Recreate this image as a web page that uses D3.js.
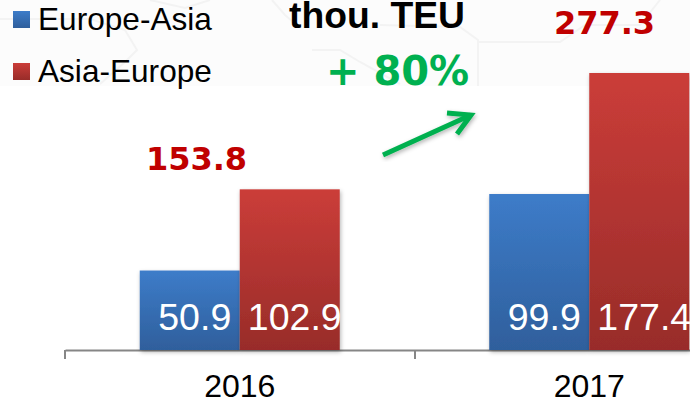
<!DOCTYPE html>
<html>
<head>
<meta charset="utf-8">
<script src="https://cdn.jsdelivr.net/npm/d3@7/dist/d3.min.js"></script>
<style>
html, body { margin: 0; padding: 0; background: #fff; overflow: hidden; }
text { font-family: "Liberation Sans", Arial, sans-serif; }
.bold { font-family: "DejaVu Sans", Verdana, sans-serif; font-weight: bold; }
</style>
</head>
<body>
<div id="chart"></div>
<script>
const years = ["2016", "2017"];
const seriesNames = ["Europe-Asia", "Asia-Europe"];
const europeAsia = [50.9, 99.9];
const asiaEurope = [102.9, 177.4];
const totals = ["153.8", "277.3"];

const width = 690, height = 403;
const baseline = 350;

const svg = d3.select("#chart").append("svg")
    .attr("width", width)
    .attr("height", height);

const defs = svg.append("defs");
function addGradient(id, top, bottom) {
    const g = defs.append("linearGradient")
        .attr("id", id)
        .attr("x1", 0).attr("y1", 0)
        .attr("x2", 0).attr("y2", 1);
    g.append("stop").attr("offset", "0%").attr("stop-color", top);
    g.append("stop").attr("offset", "100%").attr("stop-color", bottom);
}
addGradient("blue", "#3d7cc9", "#2f5f9c");
addGradient("red", "#cb3d39", "#982c29");
const blur = defs.append("filter").attr("id", "shadow")
    .attr("x", "-10%").attr("y", "-10%").attr("width", "125%").attr("height", "125%");
blur.append("feDropShadow")
    .attr("dx", 1).attr("dy", 2).attr("stdDeviation", 2)
    .attr("flood-color", "#000").attr("flood-opacity", 0.3);

// faint map backdrop behind the header
svg.append("rect").attr("width", width).attr("height", 86).attr("fill", "#fcfcfc");
svg.append("g")
    .attr("fill", "none")
    .attr("stroke", "#f3f3f3")
    .attr("stroke-width", 2)
    .selectAll("path")
    .data([
        "M0,19L90,19L125,30L137,50L125,62L100,84",
        "M150,0L185,8L210,0",
        "M272,0L285,15L300,28",
        "M312,50L340,50L360,62L400,84",
        "M380,25L460,27L478,40L478,86",
        "M478,42L560,42L585,25L640,25L660,0"
    ])
    .enter().append("path")
    .attr("d", d => d);

const x = d3.scaleBand().domain(years).range([65, 764]);
const y = d3.scaleLinear().domain([0, 177.4]).range([baseline, 73]);
const barWidth = 100;

// axis first, bars sit on it
const axis = svg.append("g")
    .attr("transform", `translate(0,${baseline})`)
    .call(d3.axisBottom(x).tickSize(0).tickPadding(24));
axis.select(".domain").attr("stroke", "#868686").attr("stroke-width", 2);
axis.selectAll("text")
    .attr("font-size", 32)
    .attr("fill", "#000")
    .attr("font-family", "Liberation Sans");
axis.selectAll(".edge")
    .data([65, 415, 765])
    .enter().append("line")
    .attr("class", "edge")
    .attr("x1", d => d).attr("x2", d => d)
    .attr("y1", 0).attr("y2", 9)
    .attr("stroke", "#868686").attr("stroke-width", 2);

const center = d => x(d) + x.bandwidth() / 2;

function drawBars(values, offset, fill) {
    svg.append("g").selectAll("rect")
        .data(values)
        .enter().append("rect")
        .attr("x", (d, i) => center(years[i]) + offset)
        .attr("y", d => y(d))
        .attr("width", barWidth)
        .attr("height", d => baseline - y(d))
        .attr("fill", `url(#${fill})`)
        .attr("filter", "url(#shadow)");
}
drawBars(europeAsia, -barWidth, "blue");
drawBars(asiaEurope, 0, "red");

function drawValues(values, offset) {
    svg.append("g").selectAll("text")
        .data(values)
        .enter().append("text")
        .attr("x", (d, i) => center(years[i]) + offset)
        .attr("y", 330)
        .attr("text-anchor", "middle")
        .attr("font-size", 37.5)
        .attr("fill", "#fff")
        .text(d => d.toFixed(1));
}
drawValues(europeAsia, -45);
drawValues(asiaEurope, 55);

svg.append("g").selectAll("text")
    .data(totals)
    .enter().append("text")
    .attr("class", "bold")
    .attr("x", (d, i) => i === 0 ? 196.5 : 604.5)
    .attr("y", (d, i) => i === 0 ? 170 : 34)
    .attr("text-anchor", "middle")
    .attr("font-size", 32)
    .attr("fill", "#c00000")
    .text(d => d);

// legend
const legend = svg.append("g").selectAll("g")
    .data(seriesNames)
    .enter().append("g")
    .attr("transform", (d, i) => `translate(13,${11 + i * 52})`);
legend.append("rect")
    .attr("width", 17).attr("height", 17)
    .attr("fill", (d, i) => `url(#${i === 0 ? "blue" : "red"})`);
legend.append("text")
    .attr("x", 25).attr("y", 19)
    .attr("font-size", 31.6)
    .attr("fill", "#000")
    .text(d => d);

svg.append("text")
    .attr("x", 289).attr("y", 28)
    .attr("font-size", 36)
    .attr("font-weight", "bold")
    .attr("fill", "#000")
    .attr("textLength", 176)
    .attr("lengthAdjust", "spacingAndGlyphs")
    .text("thou. TEU");

svg.append("text")
    .attr("class", "bold")
    .attr("x", 326).attr("y", 85)
    .attr("font-size", 40)
    .attr("fill", "#00b050")
    .text("+ 80%");

// growth arrow
const arrow = svg.append("g")
    .attr("fill", "none")
    .attr("stroke", "#00b050")
    .attr("stroke-width", 5)
    .attr("filter", "url(#shadow)");
arrow.append("path").attr("d", "M383,155L471,115");
arrow.append("path").attr("d", "M447,113L471,115L457,134");
</script>
</body>
</html>
